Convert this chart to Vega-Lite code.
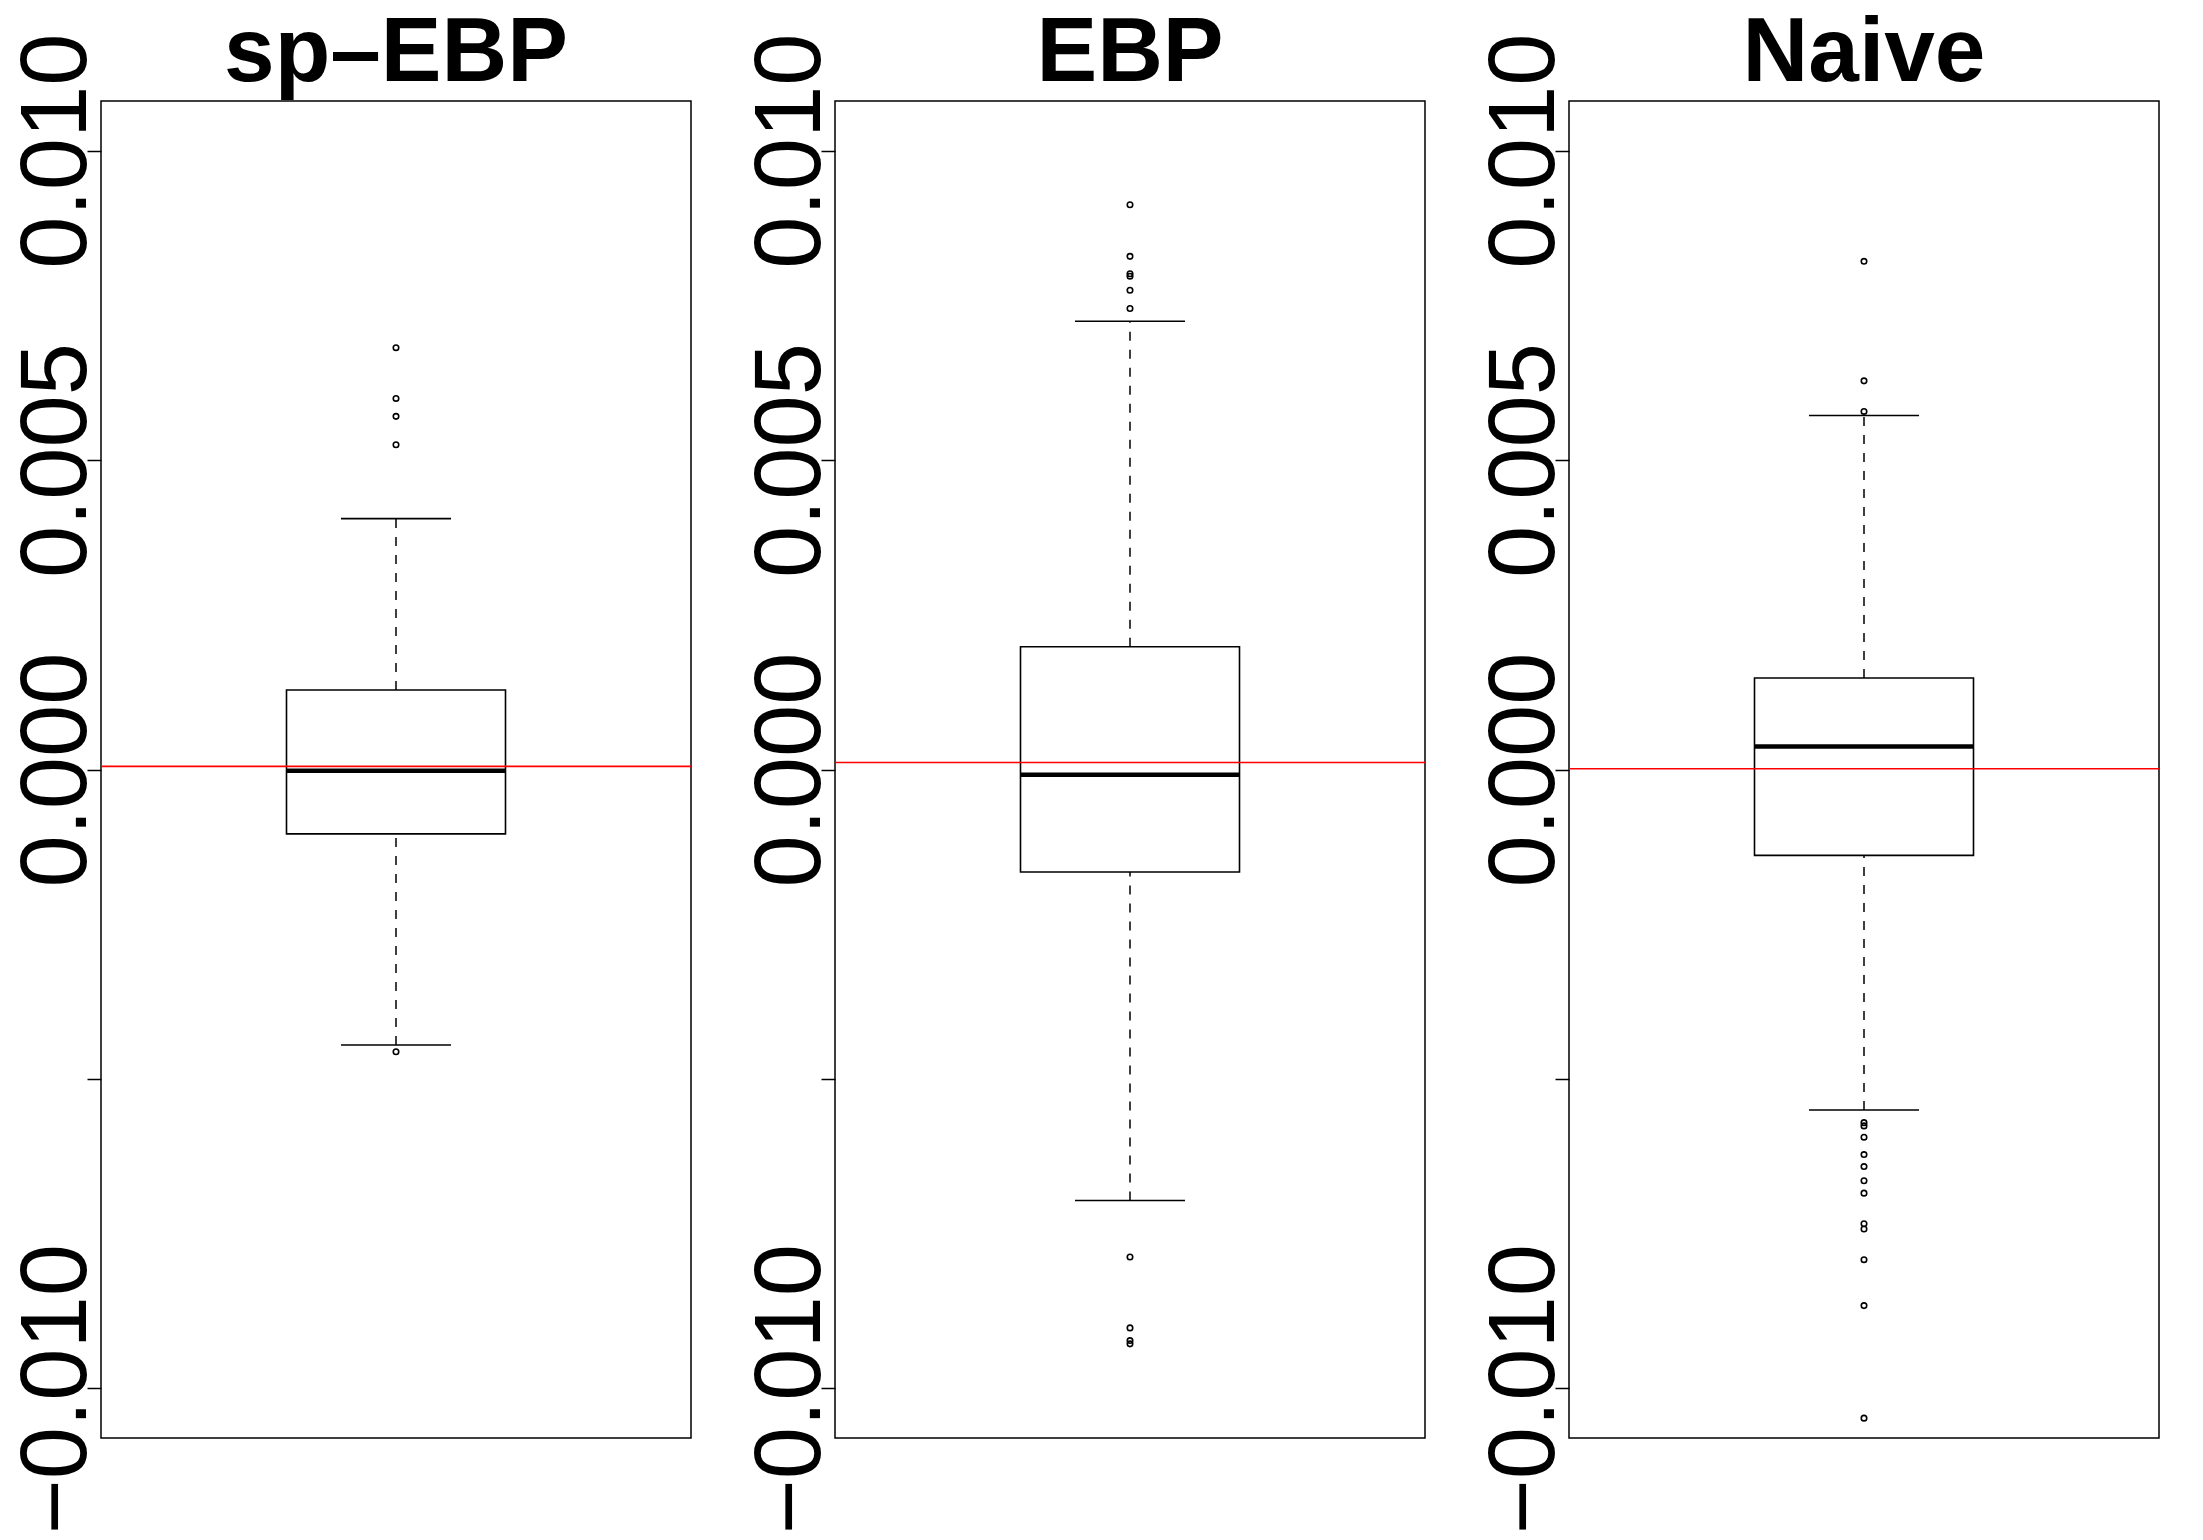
{
  "$schema": "https://vega.github.io/schema/vega-lite/v6.json",
  "background": "white",
  "padding": {"left": 9, "top": 8, "right": 0, "bottom": 0},
  "data": {
    "values": [
      {"method": "sp–EBP", "kind": "stats", "q1": -0.00104, "median": -0.00002, "q3": 0.001285, "lower": -0.004452, "upper": 0.004053, "truth": 0.00005},
      {"method": "EBP", "kind": "stats", "q1": -0.001656, "median": -0.000086, "q3": 0.001984, "lower": -0.006963, "upper": 0.007242, "truth": 0.000113},
      {"method": "Naive", "kind": "stats", "q1": -0.001387, "median": 0.000371, "q3": 0.001479, "lower": -0.0055, "upper": 0.00572, "truth": 0.000011},
      {"method": "sp–EBP", "kind": "outlier", "value": 0.006815},
      {"method": "sp–EBP", "kind": "outlier", "value": 0.005995},
      {"method": "sp–EBP", "kind": "outlier", "value": 0.005705},
      {"method": "sp–EBP", "kind": "outlier", "value": 0.005247},
      {"method": "sp–EBP", "kind": "outlier", "value": -0.00456},
      {"method": "EBP", "kind": "outlier", "value": 0.009124},
      {"method": "EBP", "kind": "outlier", "value": 0.00829},
      {"method": "EBP", "kind": "outlier", "value": 0.00801},
      {"method": "EBP", "kind": "outlier", "value": 0.00797},
      {"method": "EBP", "kind": "outlier", "value": 0.007742},
      {"method": "EBP", "kind": "outlier", "value": 0.007447},
      {"method": "EBP", "kind": "outlier", "value": -0.007876},
      {"method": "EBP", "kind": "outlier", "value": -0.009021},
      {"method": "EBP", "kind": "outlier", "value": -0.009226},
      {"method": "EBP", "kind": "outlier", "value": -0.009279},
      {"method": "Naive", "kind": "outlier", "value": 0.00821},
      {"method": "Naive", "kind": "outlier", "value": 0.006279},
      {"method": "Naive", "kind": "outlier", "value": 0.005785},
      {"method": "Naive", "kind": "outlier", "value": -0.005705},
      {"method": "Naive", "kind": "outlier", "value": -0.005758},
      {"method": "Naive", "kind": "outlier", "value": -0.00594},
      {"method": "Naive", "kind": "outlier", "value": -0.006221},
      {"method": "Naive", "kind": "outlier", "value": -0.006415},
      {"method": "Naive", "kind": "outlier", "value": -0.006645},
      {"method": "Naive", "kind": "outlier", "value": -0.006844},
      {"method": "Naive", "kind": "outlier", "value": -0.007339},
      {"method": "Naive", "kind": "outlier", "value": -0.007424},
      {"method": "Naive", "kind": "outlier", "value": -0.007919},
      {"method": "Naive", "kind": "outlier", "value": -0.008661},
      {"method": "Naive", "kind": "outlier", "value": -0.010479}
    ]
  },
  "facet": {
    "column": {
      "field": "method",
      "type": "nominal",
      "sort": ["sp–EBP", "EBP", "Naive"],
      "header": {
        "title": null,
        "labelFontSize": 91,
        "labelFont": "Liberation Sans",
        "labelFontWeight": "bold",
        "labelColor": "black",
        "labelPadding": -71,
        "labelBaseline": "alphabetic"
      }
    }
  },
  "spacing": 144,
  "bounds": "flush",
  "resolve": {"scale": {"x": "independent"}, "axis": {"y": "independent"}},
  "spec": {
    "width": 590,
    "height": 1337,
    "encoding": {
      "x": {"field": "method", "type": "nominal", "axis": null, "scale": {"type": "band", "paddingInner": 0, "paddingOuter": 0.847}}
    },
    "layer": [
      {
        "transform": [{"filter": "datum.kind == 'stats'"}],
        "mark": {"type": "rule", "color": "black", "strokeWidth": 1.5, "strokeDash": [9, 9]},
        "encoding": {
          "y": {"field": "q3", "type": "quantitative", "scale": {"domain": [-0.0108, 0.0108], "nice": false, "zero": false},
            "axis": {"title": null, "values": [-0.01, -0.005, 0, 0.005, 0.01], "format": ".3f", "labelExpr": "datum.value == -0.005 ? '' : datum.label", "labelAngle": -90, "labelFontSize": 94, "labelFont": "Liberation Sans", "labelColor": "black", "labelLimit": 1000, "tickSize": 14, "tickWidth": 1.5, "tickColor": "black", "domain": false, "grid": false, "labelPadding": -18, "labelOverlap": false, "labelBound": false, "labelFlush": false}},
          "y2": {"field": "upper"}
        }
      },
      {
        "transform": [{"filter": "datum.kind == 'stats'"}],
        "mark": {"type": "rule", "color": "black", "strokeWidth": 1.5, "strokeDash": [9, 9]},
        "encoding": {
          "y": {"field": "lower", "type": "quantitative"},
          "y2": {"field": "q1"}
        }
      },
      {
        "transform": [{"filter": "datum.kind == 'stats'"}],
        "mark": {"type": "bar", "fill": "white", "stroke": "black", "strokeWidth": 1.6},
        "encoding": {
          "y": {"field": "q1", "type": "quantitative"},
          "y2": {"field": "q3"}
        }
      },
      {
        "transform": [{"filter": "datum.kind == 'stats'"}],
        "mark": {"type": "tick", "color": "black", "size": 220, "thickness": 4.5, "opacity": 1},
        "encoding": {
          "y": {"field": "median", "type": "quantitative"}
        }
      },
      {
        "transform": [{"filter": "datum.kind == 'stats'"}],
        "mark": {"type": "tick", "color": "black", "size": 110, "thickness": 1.6, "opacity": 1},
        "encoding": {
          "y": {"field": "upper", "type": "quantitative"}
        }
      },
      {
        "transform": [{"filter": "datum.kind == 'stats'"}],
        "mark": {"type": "tick", "color": "black", "size": 110, "thickness": 1.6, "opacity": 1},
        "encoding": {
          "y": {"field": "lower", "type": "quantitative"}
        }
      },
      {
        "transform": [{"filter": "datum.kind == 'outlier'"}],
        "mark": {"type": "point", "shape": "circle", "filled": false, "color": "black", "size": 30, "strokeWidth": 1.6, "opacity": 1},
        "encoding": {
          "y": {"field": "value", "type": "quantitative"}
        }
      },
      {
        "transform": [{"filter": "datum.kind == 'stats'"}],
        "mark": {"type": "rule", "color": "#ff0000", "strokeWidth": 1.6},
        "encoding": {
          "y": {"field": "truth", "type": "quantitative"},
          "x": {"value": 0},
          "x2": {"value": 590}
        }
      }
    ]
  },
  "config": {
    "view": {"stroke": "black", "strokeWidth": 1.5},
    "axis": {"titleFontSize": 1}
  }
}
